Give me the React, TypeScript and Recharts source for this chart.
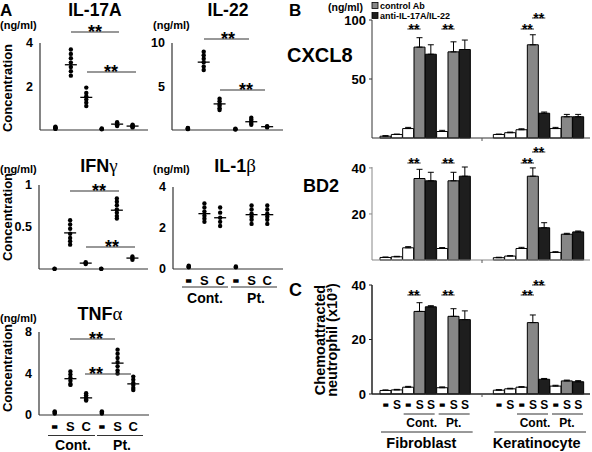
import React from 'react';
import { ScatterChart, Scatter, XAxis, YAxis, BarChart, Bar, Cell, ErrorBar } from 'recharts';

const FONT = '"Liberation Sans", Arial, Helvetica, sans-serif';
const GREEK = '"Liberation Serif", "DejaVu Serif", serif';

// ---------- Panel A data (ng/ml), groups: Cont(-,S,C), Pt(-,S,C) ----------
const groupLabelsA = ['-', 'S', 'C', '-', 'S', 'C'];

const il17aPoints = [
  [0.05, 0.08, 0.1, 0.12, 0.15],
  [3.7, 3.5, 3.3, 3.1, 2.9, 2.7, 2.5],
  [1.95, 1.7, 1.55, 1.4, 1.25, 1.1],
  [0.03, 0.05, 0.07],
  [0.18, 0.22, 0.27, 0.32, 0.36],
  [0.12, 0.15, 0.18, 0.21, 0.24],
];
const il17aMeans = [null, 3.0, 1.5, null, 0.27, 0.18];

const il22Points = [
  [0.1, 0.15, 0.2, 0.25],
  [9.0, 8.6, 8.2, 7.8, 7.3, 6.9],
  [3.6, 3.3, 3.0, 2.8, 2.5, 2.3],
  [0.05, 0.1, 0.15],
  [1.4, 1.2, 1.0, 0.8, 0.6],
  [0.3, 0.38, 0.45],
];
const il22Means = [null, 7.8, 3.0, null, 0.95, 0.38];

const ifngPoints = [
  [0, 0.005],
  [0.58, 0.53, 0.48, 0.42, 0.37, 0.33, 0.29],
  [0.06, 0.07, 0.08],
  [0, 0.005],
  [0.84, 0.8, 0.76, 0.71, 0.67, 0.63, 0.6],
  [0.11, 0.13, 0.15],
];
const ifngMeans = [null, 0.43, 0.07, null, 0.7, 0.13];

const il1bPoints = [
  [0.08, 0.12, 0.16],
  [3.2, 3.0, 2.8, 2.6, 2.45, 2.3],
  [3.0, 2.75, 2.5, 2.3, 2.1],
  [0.08, 0.12],
  [3.1, 2.9, 2.7, 2.55, 2.4, 2.2],
  [3.1, 2.9, 2.7, 2.55, 2.4, 2.2],
];
const il1bMeans = [null, 2.7, 2.5, null, 2.65, 2.65];

const tnfaPoints = [
  [0.15, 0.25, 0.35],
  [4.2, 3.9, 3.6, 3.3, 3.0, 2.9],
  [2.1, 1.9, 1.7, 1.5, 1.4],
  [0.15, 0.25, 0.35],
  [6.3, 5.9, 5.5, 5.1, 4.7, 4.3, 4.0],
  [3.7, 3.4, 3.1, 2.9, 2.6, 2.4],
];
const tnfaMeans = [null, 3.5, 1.65, null, 5.0, 3.0];

// ---------- Panel B/C data ----------
const cellLabelsB = ['-', 'S', '-', 'S', 'S', '-', 'S', 'S'];
const barKinds = ['w', 'w', 'w', 'g', 'b', 'w', 'g', 'b'];

const cxcl8Fib = [1.5, 3, 8, 77, 71, 5.5, 73, 75];
const cxcl8FibErr = [0.5, 0.3, 1, 8, 8, 1, 8.5, 8];
const cxcl8Ker = [3, 4.5, 7, 79, 21, 8, 18, 18];
const cxcl8KerErr = [0.3, 0.5, 0.8, 8.5, 1, 1, 2, 2];

const bd2Fib = [1.1, 1.4, 5.3, 35.4, 34.4, 5.0, 34.4, 36.4];
const bd2FibErr = [0.2, 0.2, 0.5, 4, 3.7, 0.4, 3.7, 4];
const bd2Ker = [1.0, 1.7, 5.0, 36.4, 14, 3.3, 11.2, 12.2];
const bd2KerErr = [0.2, 0.2, 0.5, 3.6, 2.2, 0.3, 0.4, 0.4];

const chemoFib = [1.3, 1.5, 2.5, 30.3, 32, 2.3, 28.5, 27.3];
const chemoFibErr = [0.2, 0.2, 0.3, 3.2, 0.4, 0.3, 2.8, 3.2];
const chemoKer = [1.4, 1.9, 2.5, 26.2, 5.4, 2.9, 4.8, 4.5];
const chemoKerErr = [0.2, 0.2, 0.2, 2.8, 0.3, 0.3, 0.3, 0.4];

const KIND_FILL: Record<string, string> = { w: '#ffffff', g: '#878787', b: '#1e1e1e' };

type Row = { key: string; v: number | null; e?: number[]; kind: string; label: string };

function buildBarData(fib: number[], fibErr: number[], ker: number[], kerErr: number[]): Row[] {
  const rows: Row[] = [];
  fib.forEach((v, i) => rows.push({ key: 'f' + i, v, e: [0, fibErr[i]], kind: barKinds[i], label: cellLabelsB[i] }));
  rows.push({ key: 'gap1', v: null, kind: 'w', label: '' });
  rows.push({ key: 'gap2', v: null, kind: 'w', label: '' });
  ker.forEach((v, i) => rows.push({ key: 'k' + i, v, e: [0, kerErr[i]], kind: barKinds[i], label: cellLabelsB[i] }));
  return rows;
}

const cxcl8Data = buildBarData(cxcl8Fib, cxcl8FibErr, cxcl8Ker, cxcl8KerErr);
const bd2Data = buildBarData(bd2Fib, bd2FibErr, bd2Ker, bd2KerErr);
const chemoData = buildBarData(chemoFib, chemoFibErr, chemoKer, chemoKerErr);

// ---------- shapes / ticks ----------
const DotShape = (props: any) => <circle cx={props.cx} cy={props.cy} r={2.2} fill="#000" />;
const MeanShape = (props: any) => (
  <line x1={props.cx - 6} x2={props.cx + 6} y1={props.cy} y2={props.cy} stroke="#000" strokeWidth={1.3} />
);

const LabelText = ({ x, y, label, size }: { x: number; y: number; label: string; size: number }) => {
  const dash = label === '-';
  return (
    <text
      x={x}
      y={y}
      textAnchor="middle"
      fontFamily={FONT}
      fontWeight="bold"
      fontSize={dash ? size + 3 : size}
      fill="#000"
      stroke={dash ? '#000' : 'none'}
      strokeWidth={dash ? 1.3 : 0}
    >
      {label}
    </text>
  );
};

const CatTickA = (props: any) => {
  const { x, y, payload } = props;
  const label = groupLabelsA[payload.value - 1];
  if (!label) return <g />;
  return <LabelText x={x} y={y + 16} label={label} size={13} />;
};

const CatTickB = (props: any) => {
  const { x, y, payload, index } = props;
  const row = chemoData[index];
  const label = row && row.key === payload.value ? row.label : '';
  if (!label) return <g />;
  return <LabelText x={x} y={y + 15} label={label} size={12} />;
};

// ---------- Scatter panel ----------
type SP = {
  axisX: number;
  topY: number;
  bottomY: number;
  rightX: number;
  yMax: number;
  yTicks: number[];
  points: number[][];
  means: (number | null)[];
  labels?: boolean;
};

function ScatterPanel(p: SP) {
  const yAxisW = 34;
  const mt = 8;
  const mr = 4;
  const xAxisH = p.labels ? 22 : 2;
  const width = yAxisW + (p.rightX - p.axisX) + mr;
  const height = mt + (p.bottomY - p.topY) + xAxisH;
  const dots = p.points.flatMap((vals, i) => vals.map((v) => ({ x: i + 1, y: v })));
  const meanData = p.means
    .map((m, i) => (m == null ? null : { x: i + 1, y: m }))
    .filter((d) => d != null) as { x: number; y: number }[];
  return (
    <div style={{ position: 'absolute', left: p.axisX - yAxisW, top: p.topY - mt }}>
      <ScatterChart width={width} height={height} margin={{ top: mt, right: mr, left: 0, bottom: 0 }}>
        <XAxis
          type="number"
          dataKey="x"
          domain={[0, 7]}
          ticks={[1, 2, 3, 4, 5, 6]}
          interval={0}
          height={xAxisH}
          tickLine={false}
          tickSize={0}
          tickMargin={0}
          tick={p.labels ? CatTickA : false}
          axisLine={{ stroke: '#333', strokeWidth: 1.2 }}
        />
        <YAxis
          type="number"
          dataKey="y"
          domain={[0, p.yMax]}
          ticks={p.yTicks}
          width={yAxisW}
          tickLine={false}
          tickSize={0}
          tickMargin={7}
          axisLine={{ stroke: '#333', strokeWidth: 1.2 }}
          tick={{ fill: '#000', fontSize: 12.5, fontWeight: 'bold', fontFamily: FONT }}
        />
        <Scatter data={dots} isAnimationActive={false} shape={DotShape} />
        <Scatter data={meanData} isAnimationActive={false} shape={MeanShape} />
      </ScatterChart>
    </div>
  );
}

// ---------- Bar panel ----------
const B_AXIS_X = 372;
const B_RIGHT = 590;
const PAD_L = 8;
const PAD_R = 6;
const NCAT = 18;
const BW = (B_RIGHT - B_AXIS_X - PAD_L - PAD_R) / NCAT;
const barCenter = (i: number) => B_AXIS_X + PAD_L + BW * (i + 0.5);

type BP = {
  topY: number;
  bottomY: number;
  yMax: number;
  yTicks: number[];
  data: Row[];
  labels?: boolean;
  axisColor: string;
  axisWidth: number;
};

function BarPanel(p: BP) {
  const yAxisW = 40;
  const mt = 8;
  const mr = 2;
  const xAxisH = p.labels ? 18 : 2;
  const width = yAxisW + (B_RIGHT - B_AXIS_X) + mr;
  const height = mt + (p.bottomY - p.topY) + xAxisH;
  return (
    <div style={{ position: 'absolute', left: B_AXIS_X - yAxisW, top: p.topY - mt }}>
      <BarChart
        width={width}
        height={height}
        data={p.data}
        margin={{ top: mt, right: mr, left: 0, bottom: 0 }}
        barCategoryGap={0}
        barGap={0}
      >
        <XAxis
          dataKey="key"
          type="category"
          interval={0}
          padding={{ left: PAD_L, right: PAD_R }}
          height={xAxisH}
          tickLine={false}
          tickSize={0}
          tickMargin={0}
          tick={p.labels ? CatTickB : false}
          axisLine={{ stroke: p.axisColor, strokeWidth: p.axisWidth }}
        />
        <YAxis
          type="number"
          domain={[0, p.yMax]}
          ticks={p.yTicks}
          width={yAxisW}
          tickSize={3}
          tickMargin={3}
          tickLine={{ stroke: p.axisColor }}
          axisLine={{ stroke: p.axisColor, strokeWidth: p.axisWidth }}
          tick={{ fill: '#000', fontSize: 13, fontWeight: 'bold', fontFamily: FONT }}
        />
        <Bar dataKey="v" isAnimationActive={false} stroke="#000" strokeWidth={1}>
          {p.data.map((r) => (
            <Cell key={r.key} fill={KIND_FILL[r.kind]} />
          ))}
          <ErrorBar dataKey="e" width={3} stroke="#000" strokeWidth={1} direction="y" />
        </Bar>
      </BarChart>
    </div>
  );
}

// ---------- annotations ----------
const sigA = [
  // [x1, x2, lineY, textX]
  [71, 119, 32, 95],
  [87, 136, 72, 111],
  [204, 249, 39, 228],
  [220, 265, 90, 246],
  [70, 119, 191, 99],
  [86, 135, 247, 112],
  [70, 115, 339, 96],
  [85, 131, 374, 96],
];

const sigB = [
  // [barA, barB, lineY]
  [2, 3, 29], [5, 6, 29], [12, 13, 29], [13, 14, 18],
  [2, 3, 163], [5, 6, 163], [12, 13, 163], [13, 14, 152],
  [2, 3, 295], [5, 6, 295], [12, 13, 295], [13, 14, 285],
];

const T = (props: any) => (
  <text fontFamily={FONT} fontWeight="bold" fill="#000" {...props} />
);

function Overlay() {
  const bx = (i: number) => barCenter(i);
  const edgeL = (i: number) => B_AXIS_X + PAD_L + BW * i;
  const sepX = B_AXIS_X + PAD_L + BW * 9;
  return (
    <svg
      width={592}
      height={452}
      style={{ position: 'absolute', left: 0, top: 0, pointerEvents: 'none' }}
    >
      {/* Panel A titles */}
      <T x={0} y={16} fontSize={17}>A</T>
      <T x={95} y={16} fontSize={17.5} textAnchor="middle">IL-17A</T>
      <T x={228} y={16} fontSize={17.5} textAnchor="middle">IL-22</T>
      <T x={0} y={29} fontSize={11}>(ng/ml)</T>
      <T x={153} y={29} fontSize={11}>(ng/ml)</T>
      <T x={99} y={172} fontSize={18} textAnchor="middle">
        IFN<tspan fontFamily={GREEK} fontWeight="normal" fontSize={19}>γ</tspan>
      </T>
      <T x={235} y={172} fontSize={18} textAnchor="middle">
        IL-1<tspan fontFamily={GREEK} fontWeight="normal" fontSize={19}>β</tspan>
      </T>
      <T x={0} y={173} fontSize={11}>(ng/ml)</T>
      <T x={153} y={173} fontSize={11}>(ng/ml)</T>
      <T x={100} y={320} fontSize={18} textAnchor="middle">
        TNF<tspan fontFamily={GREEK} fontWeight="normal" fontSize={19}>α</tspan>
      </T>
      <T x={0} y={322} fontSize={11}>(ng/ml)</T>
      {[88, 217, 368].map((cy) => (
        <T key={cy} transform={`translate(12,${cy}) rotate(-90)`} fontSize={13} textAnchor="middle">
          Concentration
        </T>
      ))}

      {/* significance A */}
      {sigA.map(([x1, x2, y, tx], i) => (
        <g key={'sa' + i}>
          <line x1={x1} x2={x2} y1={y} y2={y} stroke="#333" strokeWidth={1.2} />
          <T x={tx} y={y + 6} fontSize={18} textAnchor="middle">**</T>
        </g>
      ))}

      {/* group labels A */}
      <line x1={182} x2={228} y1={287} y2={287} stroke="#333" strokeWidth={1.2} />
      <line x1={231} x2={277} y1={287} y2={287} stroke="#333" strokeWidth={1.2} />
      <T x={205} y={303} fontSize={14} textAnchor="middle">Cont.</T>
      <T x={256} y={303} fontSize={14} textAnchor="middle">Pt.</T>
      <line x1={48} x2={95} y1={435.5} y2={435.5} stroke="#333" strokeWidth={1.2} />
      <line x1={97} x2={143} y1={435.5} y2={435.5} stroke="#333" strokeWidth={1.2} />
      <T x={73} y={450} fontSize={14} textAnchor="middle">Cont.</T>
      <T x={122} y={450} fontSize={14} textAnchor="middle">Pt.</T>

      {/* Panel B/C titles */}
      <T x={289} y={16} fontSize={17}>B</T>
      <T x={328} y={11} fontSize={10.5}>(ng/ml)</T>
      <rect x={372} y={2.5} width={6} height={6} fill="#878787" stroke="#000" strokeWidth={0.8} />
      <T x={380} y={8.7} fontSize={9}>control Ab</T>
      <rect x={372} y={12.5} width={6} height={6} fill="#1e1e1e" stroke="#000" strokeWidth={0.8} />
      <T x={380} y={19} fontSize={9}>anti-IL-17A/IL-22</T>
      <T x={287} y={62} fontSize={20}>CXCL8</T>
      <T x={303} y={192} fontSize={18}>BD2</T>
      <T x={289} y={296} fontSize={18}>C</T>
      <T transform="translate(325,340) rotate(-90)" fontSize={14.5} textAnchor="middle">
        Chemoattracted
      </T>
      <T transform="translate(337,340) rotate(-90)" fontSize={14.5} textAnchor="middle">
        neutrophil (x10³)
      </T>

      {/* axis separator ticks */}
      {[138, 260, 394].map((y) => (
        <line key={'sep' + y} x1={sepX} x2={sepX} y1={y} y2={y + 3} stroke="#555" strokeWidth={1} />
      ))}

      {/* significance B */}
      {sigB.map(([a, b, y], i) => (
        <g key={'sb' + i}>
          <line x1={bx(a) - 1} x2={bx(b) + 1} y1={y} y2={y} stroke="#333" strokeWidth={1} />
          <T x={(bx(a) + bx(b)) / 2} y={y + 5} fontSize={14} textAnchor="middle">**</T>
        </g>
      ))}

      {/* group labels C */}
      {[0, 10].map((o) => (
        <g key={'gl' + o}>
          <line x1={edgeL(o + 2) + 1} x2={edgeL(o + 5) - 2} y1={414} y2={414} stroke="#333" strokeWidth={1} />
          <line x1={edgeL(o + 5) + 2} x2={edgeL(o + 8) - 1} y1={414} y2={414} stroke="#333" strokeWidth={1} />
          <T x={(edgeL(o + 2) + edgeL(o + 5)) / 2 + 2} y={427} fontSize={12} textAnchor="middle">Cont.</T>
          <T x={(edgeL(o + 5) + edgeL(o + 8)) / 2} y={427} fontSize={12} textAnchor="middle">Pt.</T>
          <line x1={edgeL(o) + 1} x2={edgeL(o + 8) + 2} y1={432} y2={432} stroke="#333" strokeWidth={1} />
        </g>
      ))}
      <T x={(edgeL(0) + edgeL(8)) / 2 - 4} y={448} fontSize={14.5} textAnchor="middle">Fibroblast</T>
      <T x={(edgeL(10) + edgeL(18)) / 2 - 2} y={448} fontSize={14.5} textAnchor="middle">Keratinocyte</T>
    </svg>
  );
}

export default function App() {
  return (
    <div
      style={{
        position: 'absolute',
        left: 0,
        top: 0,
        width: 592,
        height: 452,
        background: '#fff',
        overflow: 'hidden',
        fontFamily: FONT,
      }}
    >
      <ScatterPanel axisX={40} topY={43} bottomY={130} rightX={148} yMax={4} yTicks={[0, 2, 4]} points={il17aPoints} means={il17aMeans} />
      <ScatterPanel axisX={172} topY={43} bottomY={130} rightX={283} yMax={10} yTicks={[0, 5, 10]} points={il22Points} means={il22Means} />
      <ScatterPanel axisX={39} topY={185} bottomY={269} rightX={148} yMax={1} yTicks={[0, 0.5, 1]} points={ifngPoints} means={ifngMeans} />
      <ScatterPanel axisX={173} topY={187} bottomY={269} rightX={283} yMax={4} yTicks={[0, 2, 4]} points={il1bPoints} means={il1bMeans} labels />
      <ScatterPanel axisX={39} topY={332} bottomY={415} rightX={149} yMax={8} yTicks={[0, 4, 8]} points={tnfaPoints} means={tnfaMeans} labels />

      <BarPanel topY={20} bottomY={138} yMax={100} yTicks={[0, 50, 100]} data={cxcl8Data} axisColor="#333" axisWidth={1} />
      <BarPanel topY={167} bottomY={260} yMax={40} yTicks={[0, 20, 40]} data={bd2Data} axisColor="#888" axisWidth={1} />
      <BarPanel topY={285} bottomY={394} yMax={40} yTicks={[0, 20, 40]} data={chemoData} labels axisColor="#222" axisWidth={1.5} />

      <Overlay />
    </div>
  );
}
